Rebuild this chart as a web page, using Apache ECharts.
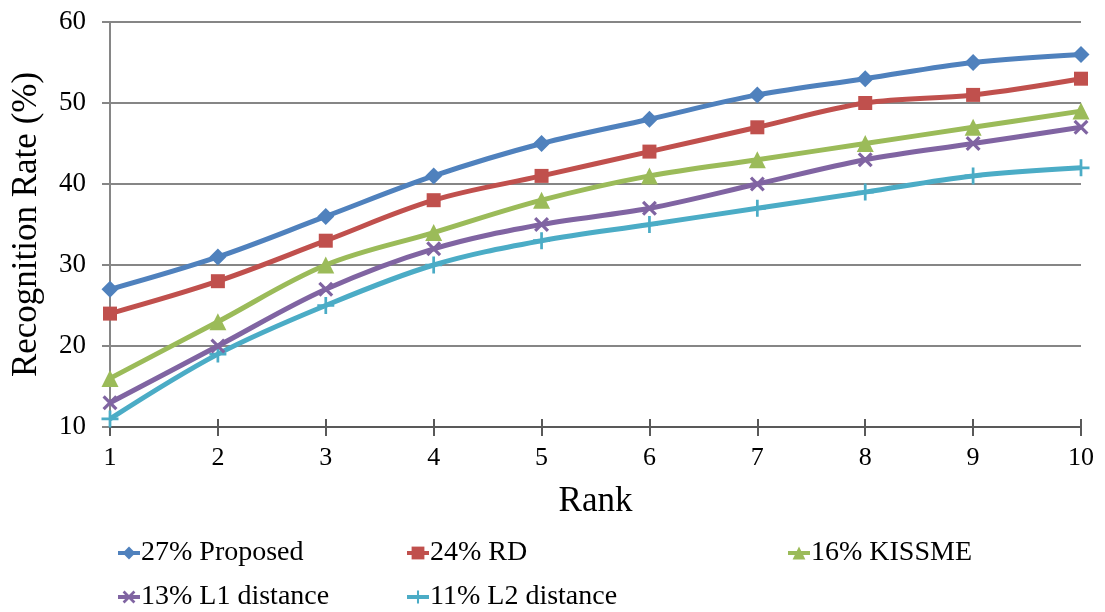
<!DOCTYPE html>
<html>
<head>
<meta charset="utf-8">
<script src="https://cdn.jsdelivr.net/npm/echarts@6/dist/echarts.min.js"></script>
<style>
  html, body { margin: 0; padding: 0; background: #fff; }
  #chart { width: 1105px; height: 612px; }
</style>
</head>
<body>
<div id="chart"></div>
<script>
// Rank axis categories
const ranks = ['1', '2', '3', '4', '5', '6', '7', '8', '9', '10'];

// Recognition rate (%) per rank for each method
const proposed = [27, 31, 36, 41, 45, 48, 51, 53, 55, 56];
const rd       = [24, 28, 33, 38, 41, 44, 47, 50, 51, 53];
const kissme   = [16, 23, 30, 34, 38, 41, 43, 45, 47, 49];
const l1Dist   = [13, 20, 27, 32, 35, 37, 40, 43, 45, 47];
const l2Dist   = [11, 19, 25, 30, 33, 35, 37, 39, 41, 42];

const seriesNames = ['27% Proposed', '24% RD', '16% KISSME', '13% L1 distance', '11% L2 distance'];

const FONT = '"Liberation Serif", "DejaVu Serif", serif';
const colors = ['#4F81BD', '#C0504D', '#9BBB59', '#8064A2', '#4BACC6'];

// Thin cross shapes for the X and + markers
const xMark = 'path://M0,1.5 L1.5,0 L5,3.5 L8.5,0 L10,1.5 L6.5,5 L10,8.5 L8.5,10 L5,6.5 L1.5,10 L0,8.5 L3.5,5 Z';
const plusMark = 'path://M4.2,0 L5.8,0 L5.8,4.2 L10,4.2 L10,5.8 L5.8,5.8 L5.8,10 L4.2,10 L4.2,5.8 L0,5.8 L0,4.2 L4.2,4.2 Z';

const symbols = ['diamond', 'rect', 'triangle', xMark, plusMark];
const symbolSizes = [17, 14, 17, 15, 17];
const dataSets = [proposed, rd, kissme, l1Dist, l2Dist];

const series = dataSets.map((d, i) => ({
  name: seriesNames[i],
  type: 'line',
  data: d,
  smooth: 0.35,
  symbol: symbols[i],
  symbolSize: symbolSizes[i],
  showAllSymbol: true,
  z: 10 - i,
  lineStyle: { width: 5, color: colors[i] },
  itemStyle: { color: colors[i], borderWidth: 0 }
}));

// One legend block per entry, laid out in three columns
const legendSpots = [
  { left: 116, top: 539 },
  { left: 405, top: 539 },
  { left: 786, top: 539 },
  { left: 116, top: 583 },
  { left: 405, top: 583 }
];
const legends = seriesNames.map((n, i) => ({
  data: [n],
  left: legendSpots[i].left,
  top: legendSpots[i].top,
  itemWidth: 22,
  itemHeight: 16,
  itemGap: 0,
  padding: 0,
  lineStyle: { width: 4 },
  textStyle: { fontFamily: FONT, fontSize: 28, color: '#000', padding: [0, 0, 0, -4] }
}));

const chart = echarts.init(document.getElementById('chart'), null, { renderer: 'canvas' });
chart.setOption({
  animation: false,
  backgroundColor: '#fff',
  color: colors,
  grid: { left: 110, right: 24, top: 22, bottom: 185, containLabel: false },
  legend: legends,
  xAxis: [
    {
      type: 'category',
      data: ranks,
      boundaryGap: false,
      name: 'Rank',
      nameLocation: 'middle',
      nameGap: 57,
      nameTextStyle: { fontFamily: FONT, fontSize: 35, color: '#000' },
      axisLine: { lineStyle: { color: '#595959', width: 2 } },
      axisTick: { show: true, inside: false, length: 9, lineStyle: { color: '#595959', width: 2 } },
      axisLabel: { fontFamily: FONT, fontSize: 26, color: '#000', margin: 18 },
      splitLine: { show: false }
    },
    {
      // inner half of the crossing tick marks on the rank axis
      type: 'category',
      data: ranks,
      boundaryGap: false,
      position: 'top',
      offset: -405,
      axisLine: { show: false },
      axisTick: { show: true, length: 8, lineStyle: { color: '#595959', width: 2 } },
      axisLabel: { show: false },
      splitLine: { show: false }
    }
  ],
  yAxis: {
    type: 'value',
    min: 10,
    max: 60,
    interval: 10,
    name: 'Recognition Rate (%)',
    nameLocation: 'middle',
    nameGap: 66,
    nameTextStyle: { fontFamily: FONT, fontSize: 35, color: '#000' },
    axisLine: { show: true, lineStyle: { color: '#868686', width: 2 } },
    axisTick: { show: true, inside: false, length: 8, lineStyle: { color: '#868686', width: 2 } },
    axisLabel: { fontFamily: FONT, fontSize: 27, color: '#000', margin: 24 },
    splitLine: { show: true, lineStyle: { color: '#868686', width: 2 } }
  },
  series: series
});
</script>
</body>
</html>
